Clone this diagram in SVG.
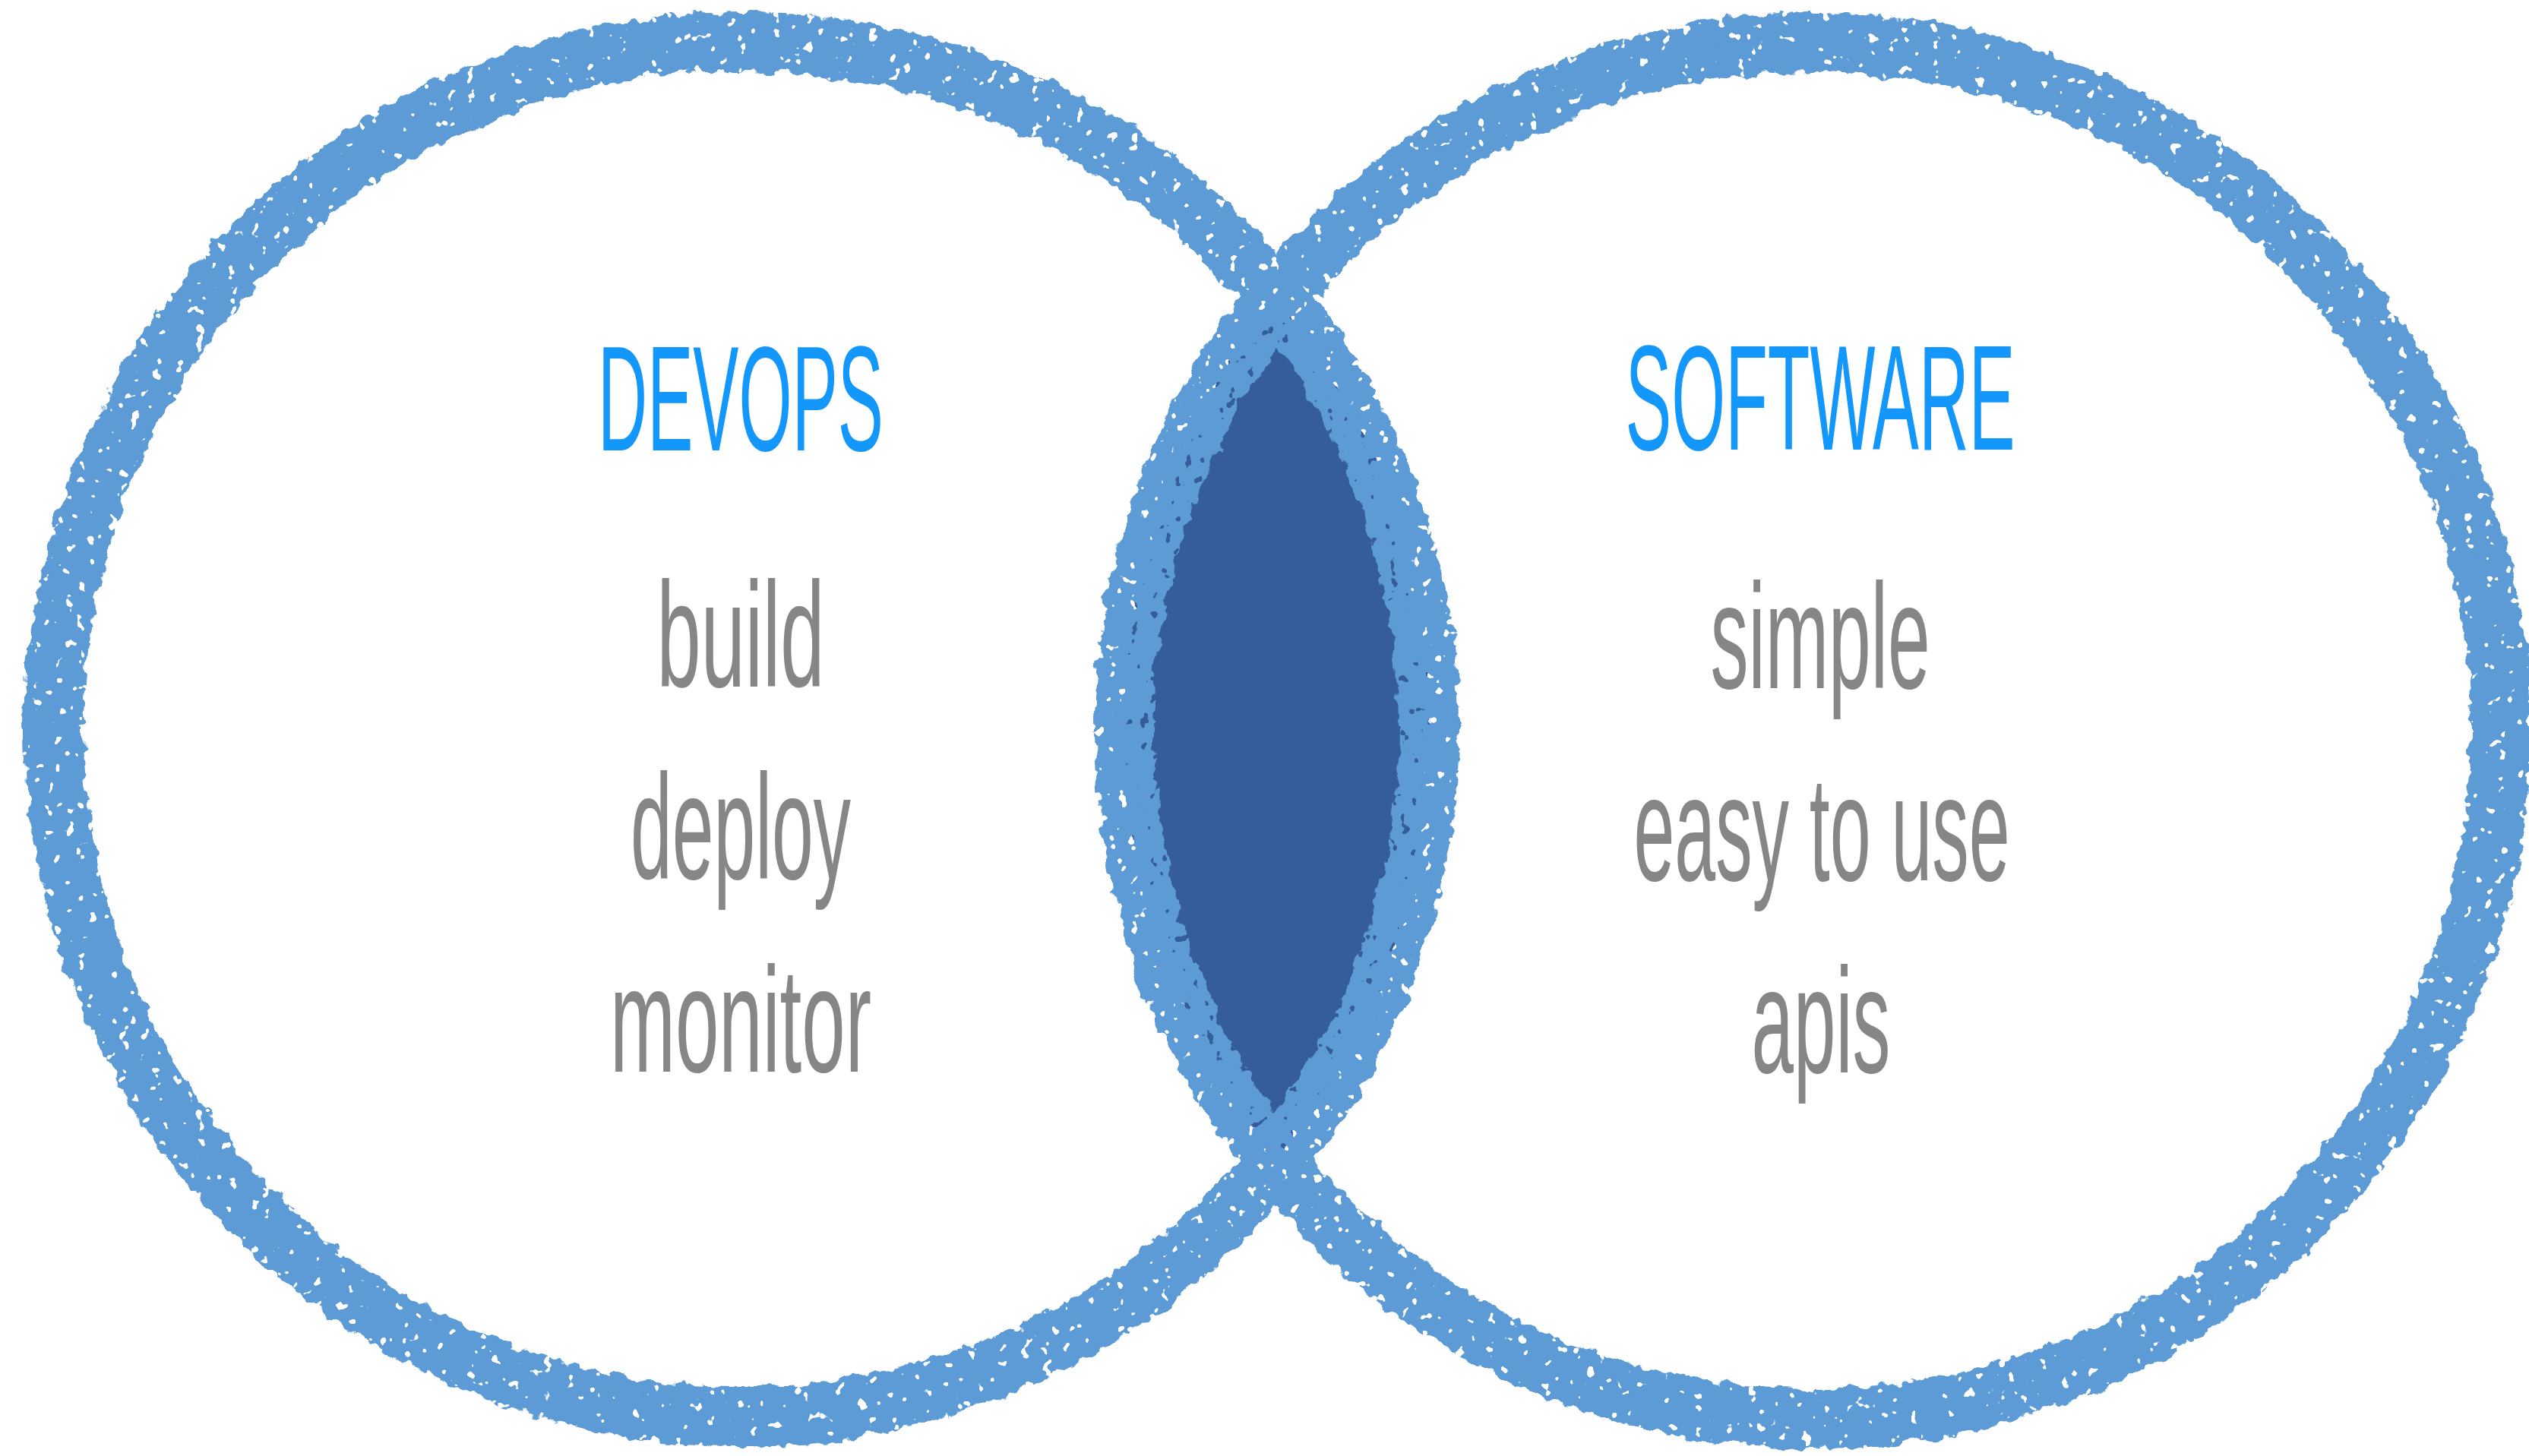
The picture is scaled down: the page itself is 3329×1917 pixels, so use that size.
<svg xmlns="http://www.w3.org/2000/svg" width="3329" height="1917" viewBox="0 0 3329 1917">
<style>
.ring{fill:none;stroke:#5B9BD5;stroke-width:78}
.title{font-family:"Liberation Sans",Arial,sans-serif;font-size:196px;fill:#1497FA;text-anchor:middle}
.item{font-family:"Liberation Sans",Arial,sans-serif;font-size:196px;fill:#868686;text-anchor:middle}
</style>
<defs>
<filter id="rough" x="-5%" y="-5%" width="110%" height="110%" filterUnits="objectBoundingBox">
<feTurbulence type="fractalNoise" baseFrequency="0.045" numOctaves="3" seed="4" result="n"/>
<feDisplacementMap in="SourceGraphic" in2="n" scale="20" xChannelSelector="R" yChannelSelector="G" result="d"/>
<feTurbulence type="fractalNoise" baseFrequency="0.07" numOctaves="2" seed="9" result="s"/>
<feColorMatrix in="s" type="matrix" values="0 0 0 0 0  0 0 0 0 0  0 0 0 0 0  40 0 0 0 -27.5" result="holes"/>
<feComposite in="d" in2="holes" operator="out"/>
</filter>
<filter id="roughFill" x="-5%" y="-5%" width="110%" height="110%" filterUnits="objectBoundingBox">
<feTurbulence type="fractalNoise" baseFrequency="0.045" numOctaves="3" seed="6" result="n"/>
<feDisplacementMap in="SourceGraphic" in2="n" scale="22" xChannelSelector="R" yChannelSelector="G"/>
</filter>
</defs>
<rect width="3329" height="1917" fill="#FFFFFF"/>
<g id="overlap">
<path d="M1680,392 A906,906 0 0,0 1680,1528 A905,905 0 0,0 1680,392 Z" fill="#355D9D" filter="url(#roughFill)"/>
</g>
<g id="devops">
<circle class="ring" cx="976" cy="960" r="905" filter="url(#rough)"/>
<text class="title" x="975" y="593" textLength="376" lengthAdjust="spacingAndGlyphs">DEVOPS</text>
<text class="item" x="975" y="904" textLength="221" lengthAdjust="spacingAndGlyphs">build</text>
<text class="item" x="975" y="1157" textLength="290" lengthAdjust="spacingAndGlyphs">deploy</text>
<text class="item" x="975" y="1411" textLength="344" lengthAdjust="spacingAndGlyphs">monitor</text>
</g>
<g id="software">
<circle class="ring" cx="2386" cy="962" r="906" filter="url(#rough)"/>
<text class="title" x="2396" y="592" textLength="513" lengthAdjust="spacingAndGlyphs">SOFTWARE</text>
<text class="item" x="2396" y="906" textLength="289" lengthAdjust="spacingAndGlyphs">simple</text>
<text class="item" x="2398" y="1159" textLength="495" lengthAdjust="spacingAndGlyphs">easy to use</text>
<text class="item" x="2397" y="1412" textLength="183" lengthAdjust="spacingAndGlyphs">apis</text>
</g>
</svg>
